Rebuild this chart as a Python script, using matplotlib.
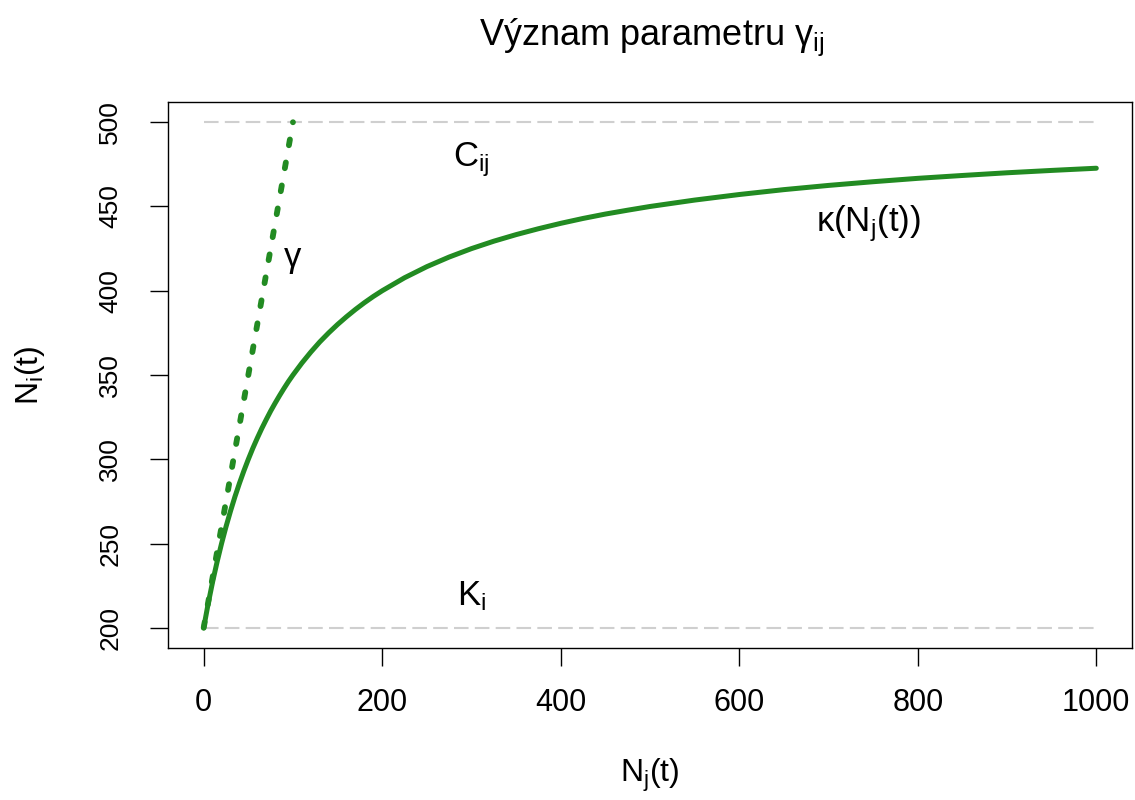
import matplotlib
matplotlib.use("Agg")
import matplotlib.pyplot as plt

plt.rcParams["font.family"] = ["Liberation Sans", "DejaVu Sans"]
plt.rcParams["mathtext.fontset"] = "custom"
plt.rcParams["mathtext.rm"] = "Liberation Sans"
plt.rcParams["mathtext.it"] = "Liberation Sans:italic"

# Response curve kappa(N_j(t)) sampled along N_j(t)
nj_values = [0, 5, 10, 15, 20, 25, 30, 35, 40, 45, 50, 55, 60, 65, 70, 75, 80,
             85, 90, 95, 100, 110, 120, 130, 140, 150, 160, 170, 180, 190, 200,
             225, 250, 275, 300, 325, 350, 375, 400, 425, 450, 475, 500, 550,
             600, 650, 700, 750, 800, 850, 900, 950, 1000]
kappa_values = [200.0, 214.3, 227.3, 239.1, 250.0, 260.0, 269.2, 277.8, 285.7,
                293.1, 300.0, 306.5, 312.5, 318.2, 323.5, 328.6, 333.3, 337.8,
                342.1, 346.2, 350.0, 357.1, 363.6, 369.6, 375.0, 380.0, 384.6,
                388.9, 392.9, 396.6, 400.0, 407.7, 414.3, 420.0, 425.0, 429.4,
                433.3, 436.8, 440.0, 442.9, 445.5, 447.8, 450.0, 453.8, 457.1,
                460.0, 462.5, 464.7, 466.7, 468.4, 470.0, 471.4, 472.7]

# Initial slope gamma: tangent from (0, K_i) up to C_ij
slope_x = [0, 100]
slope_y = [200, 500]

# Reference levels
level_K = 200
level_C = 500
level_span = [0, 1000]

x_ticks = [0, 200, 400, 600, 800, 1000]
y_ticks = [200, 250, 300, 350, 400, 450, 500]

green = "#228B22"
gray = "#cfcfcf"

fig = plt.figure(figsize=(11.35, 8.0), dpi=100)
ax = fig.add_axes([168 / 1135, 1 - 648 / 800, (1132 - 168) / 1135, (648 - 102) / 800])

for lvl in (level_K, level_C):
    ax.plot(level_span, [lvl, lvl], color=gray, lw=1.5,
            linestyle=(0, (7, 3)))

ax.plot(nj_values, kappa_values, color=green, lw=3.6, solid_capstyle="round",
        solid_joinstyle="round")
ax.plot(slope_x, slope_y, color=green, lw=4.2, linestyle=(0, (1, 3)),
        dash_capstyle="round")

ax.text(300, 478, r"$\mathregular{C_{ij}}$", fontsize=25, ha="center", va="center")
ax.text(300, 219, r"$\mathregular{K_{i}}$", fontsize=25, ha="center", va="center")
ax.text(100, 420, "γ", fontsize=25, ha="center", va="center")
ax.text(745, 440, r"$\mathregular{κ(N_{j}(t))}$", fontsize=25, ha="center", va="center")

ax.set_xlim(-40, 1040)
ax.set_ylim(188, 512)
ax.set_xticks(x_ticks)
ax.set_yticks(y_ticks)
ax.set_yticklabels([str(v) for v in y_ticks], rotation=90, va="center")
ax.tick_params(axis="both", direction="out", length=13, width=1.0, color="black")
ax.tick_params(axis="x", labelsize=22, pad=16)
ax.tick_params(axis="y", labelsize=19, pad=20)
for sp in ax.spines.values():
    sp.set_linewidth(1.0)
    sp.set_color("black")

fig.text(652 / 1135, 1 - 37 / 800, r"Význam parametru $\mathregular{γ_{ij}}$",
         fontsize=26, ha="center", va="center")
fig.text(650 / 1135, 1 - 775 / 800, r"$\mathregular{N_{j}(t)}$",
         fontsize=23, ha="center", va="center")
fig.text(30 / 1135, 1 - 375 / 800, r"$\mathregular{N_{i}(t)}$",
         fontsize=23, ha="center", va="center", rotation=90)

fig.savefig("out.png", dpi=100, facecolor="white")
